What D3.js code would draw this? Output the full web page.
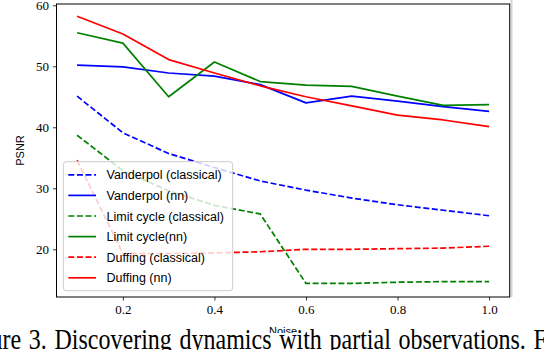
<!DOCTYPE html>
<html>
<head>
<meta charset="utf-8" />
<title>PSNR vs noise</title>
<style>
body { margin: 0; background: #fff; }
#graph { width: 544px; height: 350px; }
.tick text { font-family: "Liberation Serif", serif; font-size: 13px; fill: #000; }
.tick line { stroke: #000; stroke-width: 0.8; }
.domain { display: none; }
</style>
</head>
<body>
<div id="graph"></div>
<script src="https://cdnjs.cloudflare.com/ajax/libs/d3/7.8.5/d3.min.js"></script>
<script>
// values
var noise = [0.1, 0.2, 0.3, 0.4, 0.5, 0.6, 0.7, 0.8, 0.9, 1.0]
var vanderpolClassical = [45.1, 39.1, 35.7, 33.4, 31.2, 29.7, 28.4, 27.3, 26.4, 25.5]
var vanderpolNN = [50.2, 49.9, 48.9, 48.4, 47.0, 44.0, 45.1, 44.3, 43.4, 42.6]
var limitClassical = [38.7, 32.9, 29.6, 27.2, 25.8, 14.4, 14.4, 14.6, 14.7, 14.7]
var limitNN = [55.5, 53.8, 45.0, 50.7, 47.5, 46.9, 46.7, 45.1, 43.6, 43.7]
var duffingClassical = [34.6, 19.3, 19.3, 19.4, 19.6, 20.0, 20.0, 20.1, 20.2, 20.5]
var duffingNN = [58.2, 55.3, 51.1, 48.9, 46.8, 45.0, 43.5, 42.0, 41.2, 40.1]

var seriesNames = ["Vanderpol (classical)", "Vanderpol (nn)", "Limit cycle (classical)",
                   "Limit cycle(nn)", "Duffing (classical)", "Duffing (nn)"]
var seriesValues = [vanderpolClassical, vanderpolNN, limitClassical, limitNN, duffingClassical, duffingNN]
var seriesColors = ["#0000ff", "#0000ff", "#008000", "#008000", "#ff0000", "#ff0000"]
var seriesDashed = [true, false, true, false, true, false]

var xTicks = [0.2, 0.4, 0.6, 0.8, 1.0]
var yTicks = [20, 30, 40, 50, 60]

!(function(){
    "use strict"

    var width = 544, height = 350
    var margin = {top: 4, left: 56.5, bottom: 53, right: 34.3}
    var svg = d3.select("#graph").append("svg").attr("width", width).attr("height", height)

    var xScale = d3.scaleLinear().domain([0.055, 1.045]).range([margin.left, width - margin.right])
    var yScale = d3.scaleLinear().domain([12.18, 60.21]).range([height - margin.bottom, margin.top])

    var x0 = margin.left, x1 = width - margin.right
    var y0 = margin.top, y1 = height - margin.bottom

    // faint shadow at the right edge of the source image
    svg.append("line").attr("x1", x1 + 1.8).attr("x2", x1 + 1.8).attr("y1", 0).attr("y2", y1)
        .attr("stroke", "#d4d4d4").attr("stroke-width", 2)

    // axes
    svg.append("g").attr("transform", "translate(0," + y1 + ")")
        .call(d3.axisBottom(xScale).tickValues(xTicks).tickFormat(d3.format(".1f")).tickSize(3.5).tickPadding(4))
    svg.append("g").attr("transform", "translate(" + x0 + ",0)")
        .call(d3.axisLeft(yScale).tickValues(yTicks).tickFormat(d3.format("d")).tickSize(3.5).tickPadding(4))

    // lines
    var line = d3.line()
        .x(function(d, i){ return xScale(noise[i]) })
        .y(function(d){ return yScale(d) })

    var plot = svg.append("g")
    seriesValues.forEach(function(vals, k){
        plot.append("path")
            .attr("d", line(vals))
            .attr("fill", "none")
            .attr("stroke", seriesColors[k])
            .attr("stroke-width", 1.7)
            .attr("stroke-linejoin", "round")
            .attr("stroke-dasharray", seriesDashed[k] ? "6,2.6" : null)
    })

    // frame
    svg.append("rect").attr("x", x0).attr("y", y0).attr("width", x1 - x0).attr("height", y1 - y0)
        .attr("fill", "none").attr("stroke", "#000").attr("stroke-width", 1)

    // legend
    var lg = svg.append("g")
    lg.append("rect").attr("x", 63.3).attr("y", 161.7).attr("width", 169.4).attr("height", 129)
        .attr("rx", 3).attr("fill", "#fff").attr("fill-opacity", 0.8)
        .attr("stroke", "#cccccc").attr("stroke-width", 1)
    seriesNames.forEach(function(name, k){
        var yy = 174.8 + k * 20.6
        lg.append("line").attr("x1", 68.3).attr("x2", 96).attr("y1", yy).attr("y2", yy)
            .attr("stroke", seriesColors[k]).attr("stroke-width", 1.7)
            .attr("stroke-dasharray", seriesDashed[k] ? "6,2.6" : null)
        lg.append("text").attr("x", 106.5).attr("y", yy).attr("dy", "0.36em")
            .attr("font-family", "Liberation Sans, sans-serif").attr("font-size", 12.5)
            .text(name)
    })

    // axis labels
    svg.append("text").attr("x", (x0 + x1) / 2).attr("y", 335).attr("text-anchor", "middle")
        .attr("font-family", "Liberation Sans, sans-serif").attr("font-size", 11).text("Noise")
    svg.append("text").attr("transform", "translate(24," + ((y0 + y1) / 2) + ") rotate(-90)")
        .attr("text-anchor", "middle")
        .attr("font-family", "Liberation Sans, sans-serif").attr("font-size", 11).text("PSNR")

    // caption strip of the paper, overlapping the x label
    svg.append("rect").attr("x", 0).attr("y", 333).attr("width", width).attr("height", 17).attr("fill", "#fff")
    var cap = svg.append("text")
        .attr("font-family", "Liberation Serif, Times New Roman, serif").attr("font-size", 24)
        .attr("word-spacing", 1.7)
        .text("Figure 3. Discovering dynamics with partial observations. Further")
    var off = cap.node().getSubStringLength(0, 4)
    cap.attr("transform", "translate(" + (2.5 - off) + ",349) scale(1,1.22)")
}());
</script>
</body>
</html>
